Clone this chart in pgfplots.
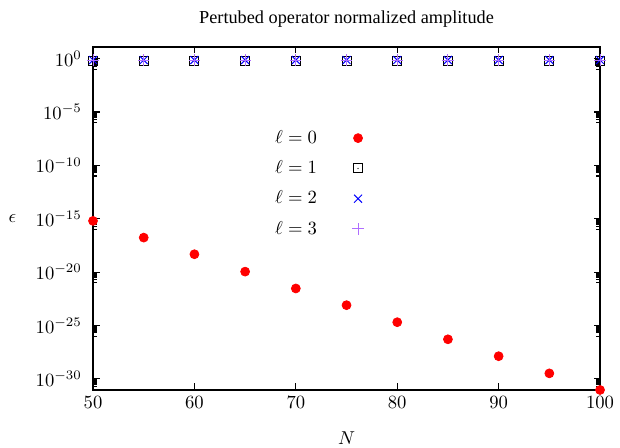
\documentclass[border=0pt]{standalone}
\usepackage{fontspec}
\setmainfont{Liberation Serif}
\usepackage{pgfplots}
\pgfplotsset{compat=1.18}
\definecolor{myviolet}{RGB}{175,110,255}
\pgfdeclareplotmark{sqdot}{%
  \pgfpathrectangle{\pgfpoint{-\pgfplotmarksize}{-\pgfplotmarksize}}{\pgfpoint{2\pgfplotmarksize}{2\pgfplotmarksize}}%
  \pgfusepathqstroke
  \pgfpathcircle{\pgfpointorigin}{0.35pt}%
  \pgfusepathqfill}
\begin{document}
\begin{tikzpicture}
\begin{axis}[
  name=ax,
  scale only axis,
  width=272pt, height=184pt,
  xmin=50, xmax=100,
  ymode=log,
  ymin=8.9e-32, ymax=12.6,
  xtick={50,60,70,80,90,100},
  ytick={1,1e-5,1e-10,1e-15,1e-20,1e-25,1e-30},
  minor ytick={1e-1,2e-1,3e-1,4e-1,5e-1,6e-1,7e-1,8e-1,9e-1,
    1e-6,2e-6,3e-6,4e-6,5e-6,6e-6,7e-6,8e-6,9e-6,
    1e-11,2e-11,3e-11,4e-11,5e-11,6e-11,7e-11,8e-11,9e-11,
    1e-16,2e-16,3e-16,4e-16,5e-16,6e-16,7e-16,8e-16,9e-16,
    1e-21,2e-21,3e-21,4e-21,5e-21,6e-21,7e-21,8e-21,9e-21,
    1e-26,2e-26,3e-26,4e-26,5e-26,6e-26,7e-26,8e-26,9e-26,
    1e-31,2e-31,3e-31,4e-31,5e-31,6e-31,7e-31,8e-31,9e-31},
  tick align=inside,
  major tick length=3.5pt,
  minor tick length=2pt,
  tick style={black, line width=0.6pt},
  axis line style={line width=0.6pt},
  title={\fontsize{9.8}{11.5}\selectfont Pertubed operator normalized amplitude},
  title style={yshift=1pt},
  yticklabel style={xshift=-2.5pt},
  xlabel={$N$},
  xlabel style={yshift=-5.4pt},
  ylabel={$\epsilon$},
  ylabel style={rotate=-90, xshift=-3.6pt},
  legend plot pos=right,
  legend cell align=left,
  legend style={draw=none, fill=none, at={(0.34,0.78)}, anchor=north west, row sep=3.8pt, column sep=17pt},
]
\addplot[only marks, mark=*, mark size=2.4pt, color=red] coordinates {
(50,6.3e-16) (55,1.7e-17) (60,4.7e-19) (65,1.1e-20) (70,2.9e-22) (75,7.9e-24)
(80,2.0e-25) (85,5.0e-27) (90,1.3e-28) (95,3.2e-30) (100,8.9e-32)};
\addlegendentry{$\ell=0$}
\addplot[only marks, mark=sqdot, mark size=2.4pt, color=black, line width=0.5pt] coordinates {
(50,0.6) (55,0.6) (60,0.6) (65,0.6) (70,0.6) (75,0.6) (80,0.6) (85,0.6) (90,0.6) (95,0.6) (100,0.6)};
\addlegendentry{$\ell=1$}
\addplot[only marks, mark=x, mark size=3pt, color=blue, line width=0.55pt] coordinates {
(50,0.75) (55,0.75) (60,0.75) (65,0.75) (70,0.75) (75,0.75) (80,0.75) (85,0.75) (90,0.75) (95,0.75) (100,0.75)};
\addlegendentry{$\ell=2$}
\addplot[only marks, mark=+, mark size=3pt, color=myviolet, line width=0.55pt] coordinates {
(50,0.75) (55,0.75) (60,0.75) (65,0.75) (70,0.75) (75,0.75) (80,0.75) (85,0.75) (90,0.75) (95,0.75) (100,0.75)};
\addlegendentry{$\ell=3$}
\end{axis}
\pgfresetboundingbox
\path (ax.south west) ++(-49.9pt,-30.6pt) rectangle ++(332.6pt,239.8pt);
\end{tikzpicture}
\end{document}
